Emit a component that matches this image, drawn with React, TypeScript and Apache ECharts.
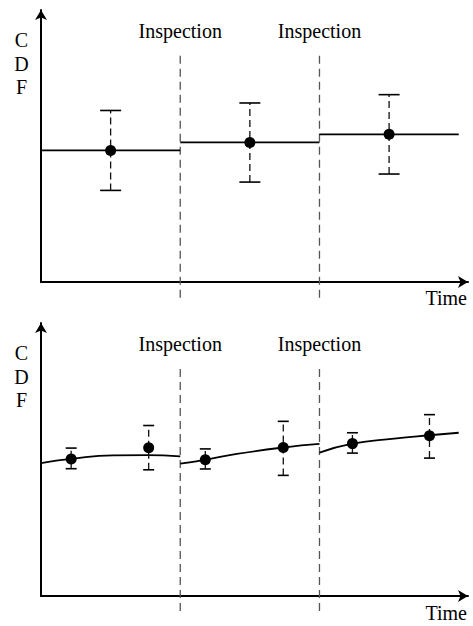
import React, { useEffect, useRef } from "react";
import * as echarts from "echarts";

// ---- Data ----
const inspectionTimes = [3, 6];

// Top panel: piecewise-constant CDF estimate between inspections
const stepStarts = [0, 3, 6];
const stepEnds = [3, 6, 9];
const stepLevels = [47.4, 50.3, 53.2];
const topPointTimes = [1.5, 4.5, 7.5];
const topPointValues = [47.4, 50.3, 53.2];
const topLower = [33.0, 36.0, 38.9];
const topUpper = [61.8, 64.5, 67.5];

// Bottom panel: fitted CDF curves between inspections
const curve1Times = [0, 0.65, 1.55, 2.28, 3];
const curve1Values = [47.7, 49.2, 50.5, 50.6, 50.1];
const curve2Times = [3, 3.54, 4.22, 5.22, 6];
const curve2Values = [47.5, 48.9, 51.0, 53.3, 54.6];
const curve3Times = [6, 6.71, 7.61, 8.37, 9];
const curve3Values = [51.5, 54.7, 56.5, 57.7, 58.6];
const botPointTimes = [0.65, 2.32, 3.54, 5.22, 6.71, 8.37];
const botPointValues = [49.2, 53.2, 48.9, 53.3, 54.7, 57.5];
const botLower = [45.7, 45.3, 45.6, 43.3, 51.3, 49.5];
const botUpper = [53.1, 61.2, 52.8, 62.7, 58.6, 65.1];

const FONT = '"Liberation Serif", "Times New Roman", serif';

function axisX(gridIndex: number) {
  return {
    type: "value",
    gridIndex,
    min: 0,
    max: 9.2,
    axisLine: {
      show: true,
      onZero: false,
      symbol: ["none", "arrow"],
      symbolSize: [9, 10],
      lineStyle: { color: "#000", width: 2 },
    },
    axisTick: { show: false },
    axisLabel: { show: false },
    splitLine: { show: false },
  };
}
function axisY(gridIndex: number) {
  return {
    type: "value",
    gridIndex,
    min: 0,
    max: 98,
    axisLine: {
      show: true,
      onZero: false,
      symbol: ["none", "arrow"],
      symbolSize: [9, 10],
      lineStyle: { color: "#000", width: 2 },
    },
    axisTick: { show: false },
    axisLabel: { show: false },
    splitLine: { show: false },
  };
}

function inspectionSeries(idx: number) {
  return {
    type: "custom",
    xAxisIndex: idx,
    yAxisIndex: idx,
    clip: false,
    silent: true,
    data: inspectionTimes.map((t) => [t]),
    renderItem: (params: any, api: any) => {
      const t = api.value(0);
      const top = api.coord([t, 81.5]);
      const bot = api.coord([t, -5.9]);
      return {
        type: "group",
        children: [
          {
            type: "line",
            shape: { x1: top[0], y1: top[1], x2: bot[0], y2: bot[1] },
            style: { stroke: "#555", lineWidth: 1.3, lineDash: [8, 5] },
          },
          {
            type: "text",
            x: top[0],
            y: top[1] - 25,
            style: {
              text: "Inspection",
              fill: "#000",
              font: `20px ${FONT}`,
              align: "center",
              verticalAlign: "middle",
            },
          },
        ],
      };
    },
    z: 1,
  };
}

function errorSeries(idx: number, times: number[], lower: number[], upper: number[], half: number) {
  return {
    type: "custom",
    xAxisIndex: idx,
    yAxisIndex: idx,
    clip: false,
    silent: true,
    data: times.map((t, i) => [t, lower[i], upper[i]]),
    renderItem: (params: any, api: any) => {
      const lo = api.coord([api.value(0), api.value(1)]);
      const hi = api.coord([api.value(0), api.value(2)]);
      return {
        type: "group",
        children: [
          {
            type: "line",
            shape: { x1: lo[0], y1: lo[1], x2: hi[0], y2: hi[1] },
            style: { stroke: "#111", lineWidth: 1.3, lineDash: [7, 4] },
          },
          {
            type: "line",
            shape: { x1: hi[0] - half, y1: hi[1], x2: hi[0] + half, y2: hi[1] },
            style: { stroke: "#000", lineWidth: 1.6 },
          },
          {
            type: "line",
            shape: { x1: lo[0] - half, y1: lo[1], x2: lo[0] + half, y2: lo[1] },
            style: { stroke: "#000", lineWidth: 1.6 },
          },
        ],
      };
    },
    z: 3,
  };
}

function lineSeries(idx: number, xs: number[], ys: number[], smooth: boolean | number) {
  return {
    type: "line",
    xAxisIndex: idx,
    yAxisIndex: idx,
    data: xs.map((x, i) => [x, ys[i]]),
    smooth,
    showSymbol: false,
    silent: true,
    lineStyle: { color: "#000", width: 1.8 },
    z: 2,
  };
}

function pointSeries(idx: number, xs: number[], ys: number[]) {
  return {
    type: "scatter",
    xAxisIndex: idx,
    yAxisIndex: idx,
    data: xs.map((x, i) => [x, ys[i]]),
    symbol: "circle",
    symbolSize: 11,
    itemStyle: { color: "#000", opacity: 1 },
    silent: true,
    z: 5,
  };
}

export default function App() {
  const ref = useRef<HTMLDivElement>(null);
  useEffect(() => {
    if (!ref.current) return;
    const chart = echarts.init(ref.current, undefined, { renderer: "svg" });
    const series: any[] = [];
    series.push(inspectionSeries(0));
    series.push(inspectionSeries(1));
    stepStarts.forEach((s, i) => {
      series.push(lineSeries(0, [s, stepEnds[i]], [stepLevels[i], stepLevels[i]], false));
    });
    series.push(errorSeries(0, topPointTimes, topLower, topUpper, 10.5));
    series.push(pointSeries(0, topPointTimes, topPointValues));
    series.push(lineSeries(1, curve1Times, curve1Values, 0.5));
    series.push(lineSeries(1, curve2Times, curve2Values, 0.5));
    series.push(lineSeries(1, curve3Times, curve3Values, 0.5));
    series.push(errorSeries(1, botPointTimes, botLower, botUpper, 5.5));
    series.push(pointSeries(1, botPointTimes, botPointValues));

    const cdfText = (y: number) => ({
      type: "text",
      x: 21.5,
      y,
      style: {
        text: "C\nD\nF",
        fill: "#000",
        font: `20px ${FONT}`,
        lineHeight: 23.5,
        align: "center",
        verticalAlign: "top",
      },
    });
    const timeText = (y: number) => ({
      type: "text",
      x: 467,
      y,
      style: {
        text: "Time",
        fill: "#000",
        font: `20px ${FONT}`,
        align: "right",
        verticalAlign: "middle",
      },
    });

    chart.setOption({
      animation: false,
      backgroundColor: "#fff",
      grid: [
        { left: 41, top: 10, width: 427, height: 272 },
        { left: 41, top: 323, width: 427, height: 273 },
      ],
      xAxis: [axisX(0), axisX(1)],
      yAxis: [axisY(0), axisY(1)],
      graphic: [cdfText(28.3), cdfText(341.3), timeText(298), timeText(613)],
      series,
    });
    return () => chart.dispose();
  }, []);
  return (
    <div
      ref={ref}
      style={{ position: "fixed", left: 0, top: 0, width: 473, height: 626, background: "#fff" }}
    />
  );
}
